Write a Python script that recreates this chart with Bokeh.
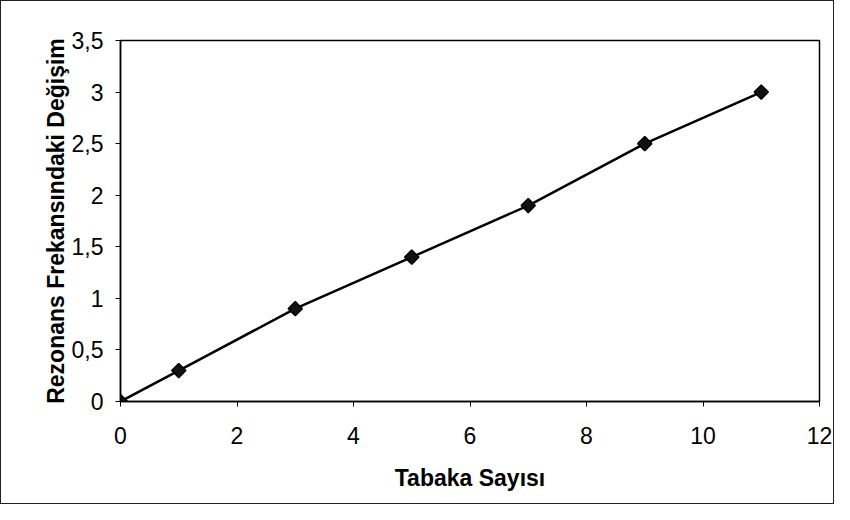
import math
from bokeh.plotting import figure
from bokeh.models import FixedTicker, Range1d
from bokeh.embed import file_html
from bokeh.resources import INLINE

# Data
tabaka = [0, 1, 3, 5, 7, 9, 11]
degisim = [0, 0.3, 0.9, 1.4, 1.9, 2.5, 3.0]

x_ticks = [0, 2, 4, 6, 8, 10, 12]
y_ticks = [0, 0.5, 1, 1.5, 2, 2.5, 3, 3.5]
y_labels = ["0", "0,5", "1", "1,5", "2", "2,5", "3", "3,5"]

FONT = "Liberation Sans"

p = figure(width=834, height=504, output_backend="svg", toolbar_location=None,
           x_range=Range1d(0, 12), y_range=Range1d(0, 3.5),
           min_border_left=119, min_border_right=16, min_border_top=39, min_border_bottom=104)
p.styles = {"border": "1px solid #222"}

p.xgrid.visible = False
p.ygrid.visible = False
p.outline_line_color = "black"
p.outline_line_width = 1.5

p.line(tabaka, degisim, line_color="black", line_width=2.5)
p.scatter(tabaka, degisim, marker="square", angle=math.pi / 4, size=10,
          fill_color="#111111", line_color="black", line_width=1.5)

p.xaxis.ticker = FixedTicker(ticks=x_ticks)
p.yaxis.ticker = FixedTicker(ticks=y_ticks)
p.yaxis.major_label_overrides = {t: l for t, l in zip(y_ticks, y_labels)}

for ax in (p.xaxis[0], p.yaxis[0]):
    ax.axis_line_color = "black"
    ax.axis_line_width = 1.5
    ax.major_tick_line_color = "black"
    ax.major_tick_in = 0
    ax.major_tick_out = 5
    ax.minor_tick_line_color = None
    ax.major_label_text_font = FONT
    ax.major_label_text_font_size = "23px"
    ax.major_label_text_color = "black"
    ax.axis_label_text_font = FONT
    ax.axis_label_text_font_style = "bold"
    ax.axis_label_text_color = "black"

p.xaxis.axis_label_text_font_size = "23px"
p.yaxis.axis_label_text_font_size = "23px"
p.xaxis.axis_label = "Tabaka Sayısı"
p.yaxis.axis_label = "Rezonans Frekansındaki Değişim"
p.xaxis.major_label_standoff = 20
p.xaxis.axis_label_standoff = 18
p.yaxis.major_label_standoff = 12
p.yaxis.axis_label_standoff = 0

open("out.html", "w").write(file_html(p, INLINE))
